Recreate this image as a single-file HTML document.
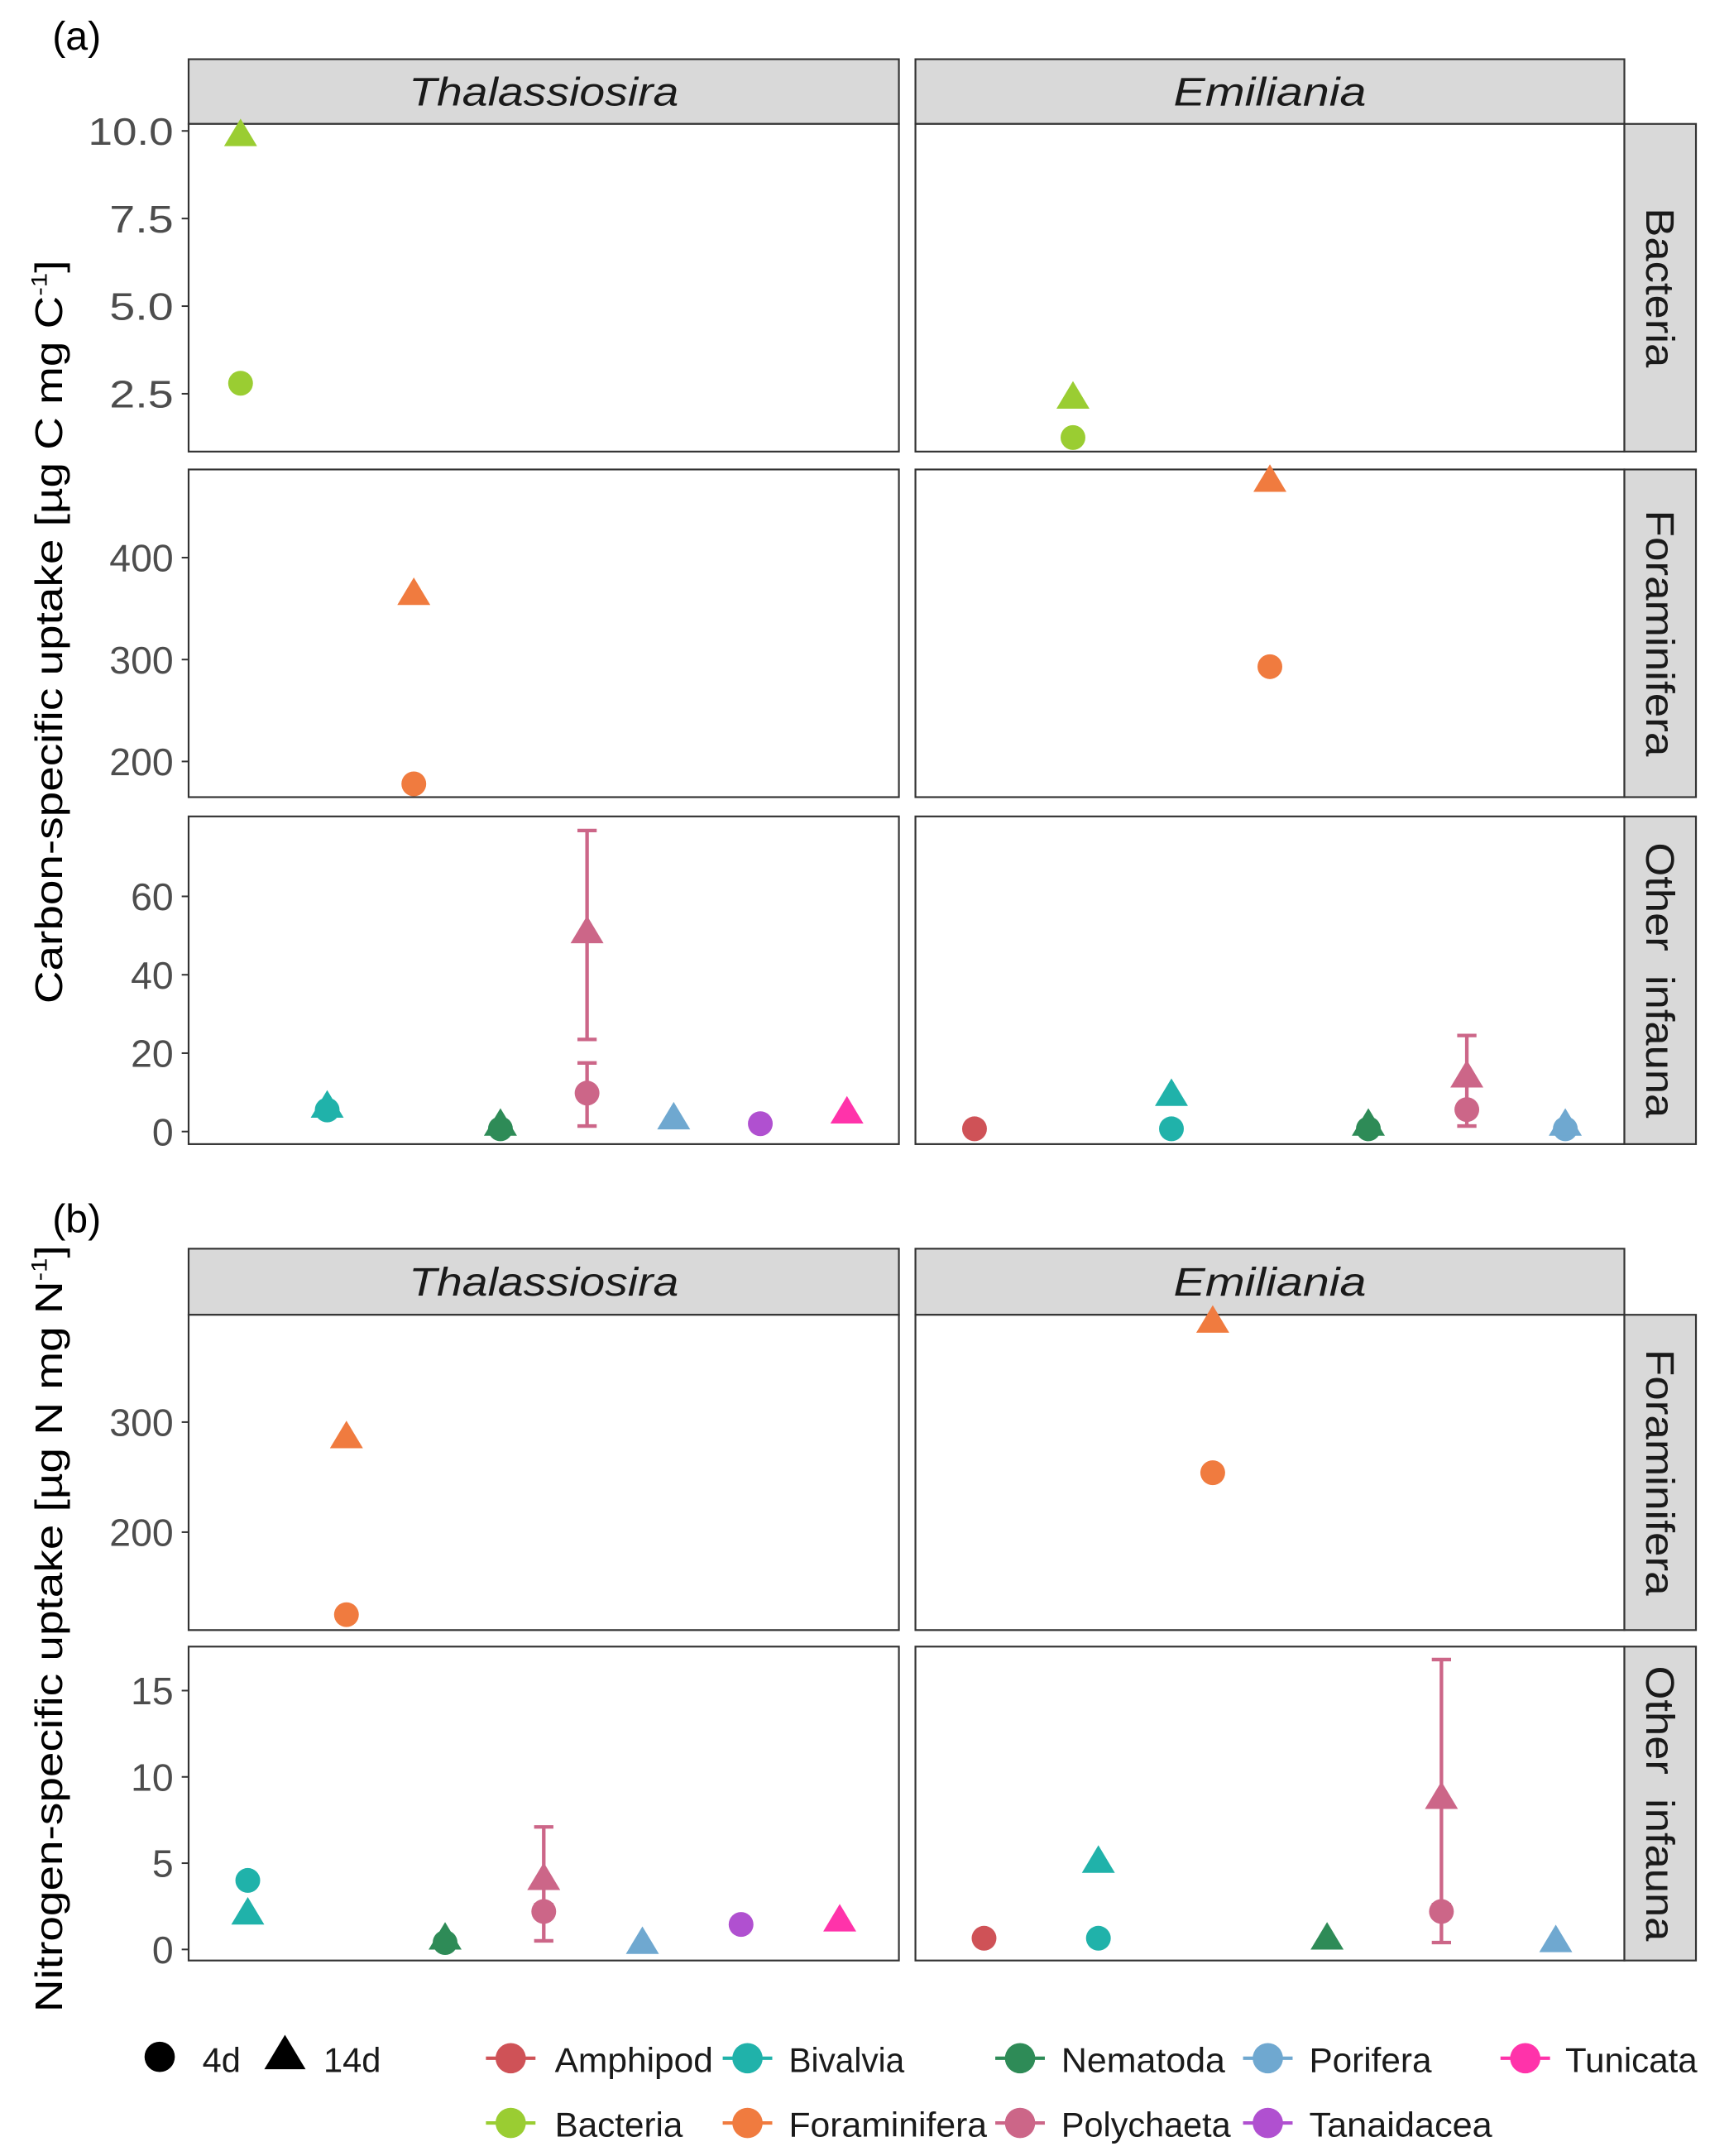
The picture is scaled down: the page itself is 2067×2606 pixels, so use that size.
<!DOCTYPE html>
<html><head><meta charset="utf-8">
<style>html,body{margin:0;padding:0;background:#fff}svg{display:block}text{font-family:"Liberation Sans",Arial,sans-serif}</style>
</head><body>
<svg id="chart" width="2067" height="2606" viewBox="0 0 1242.2 1566" preserveAspectRatio="none" xmlns="http://www.w3.org/2000/svg">
</svg>
<script>
// ---- data ----
const taxa = ["Amphipod","Bacteria","Bivalvia","Foraminifera","Nematoda","Polychaeta","Porifera","Tanaidacea","Tunicata"];
const taxaColors = ["#cf5257","#9acd32","#20b2aa","#f07b3f","#2e8b57","#cc6688","#6fa8d0","#b050d0","#ff33aa"];
// x categories per part/column
const catsAThal = ["Bacteria","Bivalvia","Foraminifera","Nematoda","Polychaeta","Porifera","Tanaidacea","Tunicata"];
const catsAEmil = ["Amphipod","Bacteria","Bivalvia","Foraminifera","Nematoda","Polychaeta","Porifera"];
const catsBThal = ["Bivalvia","Foraminifera","Nematoda","Polychaeta","Porifera","Tanaidacea","Tunicata"];
const catsBEmil = ["Amphipod","Bivalvia","Foraminifera","Nematoda","Polychaeta","Porifera"];
// points: [taxon, time(4d/14d), value, errLow, errHigh]
const ptsABactThal = [["Bacteria","14d",9.84],["Bacteria","4d",2.8]];
const ptsABactEmil = [["Bacteria","14d",2.35],["Bacteria","4d",1.25]];
const ptsAForThal = [["Foraminifera","14d",363],["Foraminifera","4d",178]];
const ptsAForEmil = [["Foraminifera","14d",474],["Foraminifera","4d",293]];
const ptsAOthThal = [["Bivalvia","4d",5.5],["Bivalvia","14d",6],["Nematoda","4d",0.7],["Nematoda","14d",1.4],
  ["Polychaeta","14d",50.5,23.5,76.8],["Polychaeta","4d",9.8,1.4,17.5],["Porifera","14d",3],["Tanaidacea","4d",2],["Tunicata","14d",4.5]];
const ptsAOthEmil = [["Amphipod","4d",0.7],["Bivalvia","14d",9],["Bivalvia","4d",0.7],["Nematoda","4d",0.7],["Nematoda","14d",1.4],
  ["Polychaeta","14d",13.7,6,24.5],["Polychaeta","4d",5.6,1.4,6.5],["Porifera","4d",0.7],["Porifera","14d",1.4]];
const ptsBForThal = [["Foraminifera","14d",285],["Foraminifera","4d",125]];
const ptsBForEmil = [["Foraminifera","14d",390],["Foraminifera","4d",254]];
const ptsBOthThal = [["Bivalvia","4d",4.0],["Bivalvia","14d",2.0],["Nematoda","4d",0.4],["Nematoda","14d",0.55],
  ["Polychaeta","14d",4.0,2.5,7.1],["Polychaeta","4d",2.2,0.5,2.6],["Porifera","14d",0.3],["Tanaidacea","4d",1.45],["Tunicata","14d",1.6]];
const ptsBOthEmil = [["Amphipod","4d",0.65],["Bivalvia","14d",5.0],["Bivalvia","4d",0.65],["Nematoda","14d",0.55],
  ["Polychaeta","14d",8.7,2.2,16.8],["Polychaeta","4d",2.2,0.4,2.6],["Porifera","14d",0.4]];
// y tick labels
const ticksBact = [2.5,5.0,7.5,10.0];
const ticksAFor = [200,300,400];
const ticksAOth = [0,20,40,60];
const ticksBFor = [200,300];
const ticksBOth = [0,5,10,15];

const NS="http://www.w3.org/2000/svg";
const svg=document.getElementById('chart');
function mk(tag,attrs,parent){const e=document.createElementNS(NS,tag);for(const k in attrs)e.setAttribute(k,attrs[k]);(parent||svg).appendChild(e);return e;}
function col(t){return taxaColors[taxa.indexOf(t)];}
function stretch(t,len){t.setAttribute('textLength',len);t.setAttribute('lengthAdjust','spacingAndGlyphs');}

const L=[137,653],R=[665,1180];
function panel(name,xr,yr,dom,cats,pts,ticks,dec){
  const g=mk('g',{});
  
  
  mk('rect',{x:xr[0],y:yr[0],width:xr[1]-xr[0],height:yr[1]-yr[0],fill:'#fff',stroke:'#333','stroke-width':1.3},g);
  const unit=(xr[1]-xr[0])/(cats.length+0.2);
  const xs=c=>xr[0]+(cats.indexOf(c)+0.6)*unit;
  const ys=v=>yr[1]-(v-dom[0])/(dom[1]-dom[0])*(yr[1]-yr[0]);
  if(ticks){for(const t of ticks){const y=ys(t);
    mk('line',{x1:xr[0]-5,x2:xr[0],y1:y,y2:y,stroke:'#333','stroke-width':1.2},g);
    const tx=mk('text',{x:xr[0]-11,y:y+10,'text-anchor':'end','font-size':28,fill:'#4d4d4d'},g);
    tx.textContent=t.toFixed(dec);
    stretch(tx,tx.textContent.length*15.5);
    
    
  }}
  for(const p of pts){
    const x=xs(p[0]),y=ys(p[2]),c=col(p[0]);
    if(p.length>3){
      const e=mk('g',{stroke:c,'stroke-width':2.6,fill:'none'},g);
      
      
      mk('line',{x1:x,x2:x,y1:ys(p[3]),y2:ys(p[4])},e);
      mk('line',{x1:x-7,x2:x+7,y1:ys(p[3]),y2:ys(p[3])},e);
      mk('line',{x1:x-7,x2:x+7,y1:ys(p[4]),y2:ys(p[4])},e);
    }
  }
  for(const p of pts){
    const x=xs(p[0]),y=ys(p[2]),c=col(p[0]);
    let m;
    if(p[1]==='4d'){m=mk('circle',{cx:x,cy:y,r:9,fill:c},g);}
    else{m=mk('polygon',{points:`${x},${y-13} ${x-12},${y+7} ${x+12},${y+7}`,fill:c},g);}
    
    
  }
}
function topStrip(label,xr,y0,y1,len){
  mk('rect',{x:xr[0],y:y0,width:xr[1]-xr[0],height:y1-y0,fill:'#d9d9d9',stroke:'#333','stroke-width':1.3});
  const t=mk('text',{x:(xr[0]+xr[1])/2,y:(y0+y1)/2+10,'text-anchor':'middle','font-size':29,'font-style':'italic',fill:'#1a1a1a'});
  t.textContent=label;
  stretch(t,len);
  
  
}
function sideStrip(label,y0,y1,len){
  mk('rect',{x:1180,y:y0,width:52,height:y1-y0,fill:'#d9d9d9',stroke:'#333','stroke-width':1.3});
  const cy=(y0+y1)/2;
  const t=mk('text',{x:1206,y:cy,'text-anchor':'middle','font-size':29,fill:'#1a1a1a',transform:`rotate(90 1206 ${cy}) translate(0 10)`});
  t.textContent=label;
  stretch(t,len);
  
  
}
// part a
topStrip('Thalassiosira',L,43,90,196);topStrip('Emiliania',R,43,90,140);
panel('panel-a-thal-bacteria',L,[90,328],[0.85,10.2],catsAThal,ptsABactThal,ticksBact,1);
panel('panel-a-emil-bacteria',R,[90,328],[0.85,10.2],catsAEmil,ptsABactEmil,null);
panel('panel-a-thal-foram',L,[341,579],[165,486.5],catsAThal,ptsAForThal,ticksAFor,0);
panel('panel-a-emil-foram',R,[341,579],[165,486.5],catsAEmil,ptsAForEmil,null);
panel('panel-a-thal-other',L,[593,831],[-3.2,80.4],catsAThal,ptsAOthThal,ticksAOth,0);
panel('panel-a-emil-other',R,[593,831],[-3.2,80.4],catsAEmil,ptsAOthEmil,null);
sideStrip('Bacteria',90,328,116);sideStrip('Foraminifera',341,579,179);sideStrip('Other\u00a0\u00a0infauna',593,831,200);
// part b
topStrip('Thalassiosira',L,907,955,196);topStrip('Emiliania',R,907,955,140);
panel('panel-b-thal-foram',L,[955,1184],[111,397.5],catsBThal,ptsBForThal,ticksBFor,0);
panel('panel-b-emil-foram',R,[955,1184],[111,397.5],catsBEmil,ptsBForEmil,null);
panel('panel-b-thal-other',L,[1196,1424],[-0.64,17.55],catsBThal,ptsBOthThal,ticksBOth,0);
panel('panel-b-emil-other',R,[1196,1424],[-0.64,17.55],catsBEmil,ptsBOthEmil,null);
sideStrip('Foraminifera',955,1184,179);sideStrip('Other\u00a0\u00a0infauna',1196,1424,200);
</script>
<svg style="position:absolute;left:0;top:0" width="2067" height="2606" viewBox="0 0 1242.2 1566" preserveAspectRatio="none" xmlns="http://www.w3.org/2000/svg">
  <text x="38" y="36" font-size="29" fill="#000">(a)</text>
  <text x="38" y="895" font-size="29" fill="#000">(b)</text>
  <text transform="translate(45 459) rotate(-90)" text-anchor="middle" font-size="28" fill="#000" textLength="540" lengthAdjust="spacingAndGlyphs">Carbon-specific uptake [µg C mg C<tspan font-size="16" dy="-11">-1</tspan><tspan dy="11">]</tspan></text>
  <text transform="translate(45 1183) rotate(-90)" text-anchor="middle" font-size="28" fill="#000" textLength="557" lengthAdjust="spacingAndGlyphs">Nitrogen-specific uptake [µg N mg N<tspan font-size="16" dy="-11">-1</tspan><tspan dy="11">]</tspan></text>
  <g font-size="25" fill="#1a1a1a">
    <circle cx="116" cy="1494" r="11" fill="#000"/>
    <text x="147" y="1505">4d</text>
    <polygon points="207,1478 192,1503 222,1503" fill="#000"/>
    <text x="235" y="1505">14d</text>
  </g>
  <g font-size="25" fill="#1a1a1a">
    <g><line x1="353" x2="389" y1="1495" y2="1495" stroke="#cf5257" stroke-width="2.5"/><circle cx="371" cy="1495" r="11" fill="#cf5257"/><text x="403" y="1505" textLength="115" lengthAdjust="spacingAndGlyphs">Amphipod</text></g>
    <g><line x1="525" x2="561" y1="1495" y2="1495" stroke="#20b2aa" stroke-width="2.5"/><circle cx="543" cy="1495" r="11" fill="#20b2aa"/><text x="573" y="1505" textLength="84" lengthAdjust="spacingAndGlyphs">Bivalvia</text></g>
    <g><line x1="723" x2="759" y1="1495" y2="1495" stroke="#2e8b57" stroke-width="2.5"/><circle cx="741" cy="1495" r="11" fill="#2e8b57"/><text x="771" y="1505" textLength="119" lengthAdjust="spacingAndGlyphs">Nematoda</text></g>
    <g><line x1="903" x2="939" y1="1495" y2="1495" stroke="#6fa8d0" stroke-width="2.5"/><circle cx="921" cy="1495" r="11" fill="#6fa8d0"/><text x="951" y="1505" textLength="89" lengthAdjust="spacingAndGlyphs">Porifera</text></g>
    <g><line x1="1090" x2="1126" y1="1495" y2="1495" stroke="#ff33aa" stroke-width="2.5"/><circle cx="1108" cy="1495" r="11" fill="#ff33aa"/><text x="1137" y="1505" textLength="96" lengthAdjust="spacingAndGlyphs">Tunicata</text></g>
    <g><line x1="353" x2="389" y1="1542" y2="1542" stroke="#9acd32" stroke-width="2.5"/><circle cx="371" cy="1542" r="11" fill="#9acd32"/><text x="403" y="1552" textLength="93" lengthAdjust="spacingAndGlyphs">Bacteria</text></g>
    <g><line x1="525" x2="561" y1="1542" y2="1542" stroke="#f07b3f" stroke-width="2.5"/><circle cx="543" cy="1542" r="11" fill="#f07b3f"/><text x="573" y="1552" textLength="144" lengthAdjust="spacingAndGlyphs">Foraminifera</text></g>
    <g><line x1="723" x2="759" y1="1542" y2="1542" stroke="#cc6688" stroke-width="2.5"/><circle cx="741" cy="1542" r="11" fill="#cc6688"/><text x="771" y="1552" textLength="123" lengthAdjust="spacingAndGlyphs">Polychaeta</text></g>
    <g><line x1="903" x2="939" y1="1542" y2="1542" stroke="#b050d0" stroke-width="2.5"/><circle cx="921" cy="1542" r="11" fill="#b050d0"/><text x="951" y="1552" textLength="133" lengthAdjust="spacingAndGlyphs">Tanaidacea</text></g>
  </g>
</svg>
</body></html>
